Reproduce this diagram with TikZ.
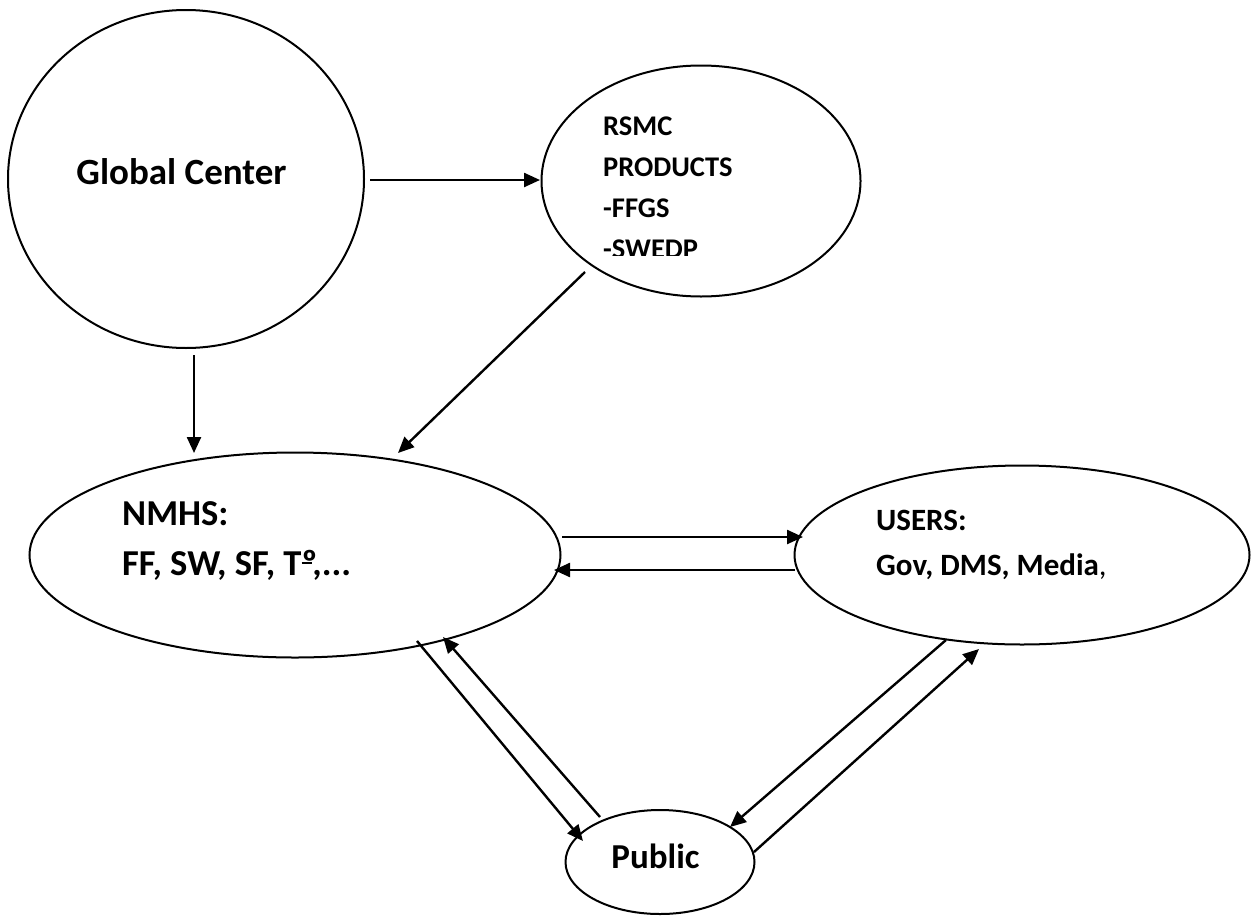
\documentclass[tikz,border=0pt]{standalone}
\usepackage{fontspec}
\setmainfont{Carlito}
\usetikzlibrary{arrows.meta,shapes.geometric}
\newcommand{\ordo}{\rlap{º}\raisebox{0.30em}{\rule{0.30em}{0.055em}}}
\begin{document}
\begin{tikzpicture}[x=1pt,y=-1pt,
  blob/.style={ellipse,draw=black,line width=2pt,inner sep=0pt},
  conn/.style={line width=2.4pt,-{Triangle[length=16pt,width=14pt]}},
  lbl/.style={inner sep=0pt,font=\bfseries}]
\useasboundingbox (0,0) rectangle (1257,918);
% ellipses
\node[blob,minimum width=356pt,minimum height=338pt] (gc) at (186,179) {};
\node[blob,minimum width=319pt,minimum height=231pt] (rsmc) at (701,181) {};
\node[blob,minimum width=531pt,minimum height=205pt] (nmhs) at (295,555) {};
\node[blob,minimum width=455pt,minimum height=179pt] (users) at (1022,555) {};
\node[blob,minimum width=189pt,minimum height=104pt] (public) at (660,862) {};
% texts
\node[lbl,anchor=base,font=\bfseries\fontsize{37}{44}\selectfont] (gct) at (181.5,184) {Global Center};
\begin{scope}
\clip (590,90) rectangle (820,255);
\node[lbl,anchor=base west,font=\bfseries\fontsize{28.5}{34}\selectfont] (r1) at (603,135) {RSMC};
\node[lbl,anchor=base west,font=\bfseries\fontsize{28.5}{34}\selectfont] (r2) at (603,176) {PRODUCTS};
\node[lbl,anchor=base west,font=\bfseries\fontsize{28.5}{34}\selectfont] (r3) at (603,217) {-FFGS};
\node[lbl,anchor=base west,font=\bfseries\fontsize{28.5}{34}\selectfont] (r4) at (603,258) {-SWEDP};
\end{scope}
\node[lbl,anchor=base west,font=\bfseries\fontsize{36.5}{42}\selectfont] (n1) at (122,525) {NMHS:};
\node[lbl,anchor=base west,font=\bfseries\fontsize{36.5}{42}\selectfont] (n2) at (122,575) {FF, SW, SF, T\ordo,...};
\node[lbl,anchor=base west,font=\bfseries\fontsize{31}{37}\selectfont] (u1) at (876,530) {USERS:};
\node[lbl,anchor=base west,font=\bfseries\fontsize{31}{37}\selectfont] (u2) at (876,575) {Gov, DMS, Media{\mdseries,}};
\node[lbl,anchor=base,font=\bfseries\fontsize{35}{42}\selectfont] (pt) at (655.5,868) {Public};
% connector end points
\coordinate (a1s) at (370,180); \coordinate (a1e) at (540,180);
\coordinate (a2s) at (585,272); \coordinate (a2e) at (398,453);
\coordinate (a3s) at (194,355); \coordinate (a3e) at (194,453);
\coordinate (a4s) at (562,537); \coordinate (a4e) at (803,537);
\coordinate (a5s) at (795,570); \coordinate (a5e) at (554,570);
\coordinate (a6s) at (417,641); \coordinate (a6e) at (583,841);
\coordinate (a7s) at (600,817); \coordinate (a7e) at (443,637);
\coordinate (a8s) at (946,640); \coordinate (a8e) at (730,827);
\coordinate (a9s) at (754,852); \coordinate (a9e) at (979,649);
\draw[conn] (a1s) -- (a1e);
\draw[conn] (a2s) -- (a2e);
\draw[conn] (a3s) -- (a3e);
\draw[conn] (a4s) -- (a4e);
\draw[conn] (a5s) -- (a5e);
\draw[conn] (a6s) -- (a6e);
\draw[conn] (a7s) -- (a7e);
\draw[conn] (a8s) -- (a8e);
\draw[conn] (a9s) -- (a9e);
\end{tikzpicture}
\end{document}
